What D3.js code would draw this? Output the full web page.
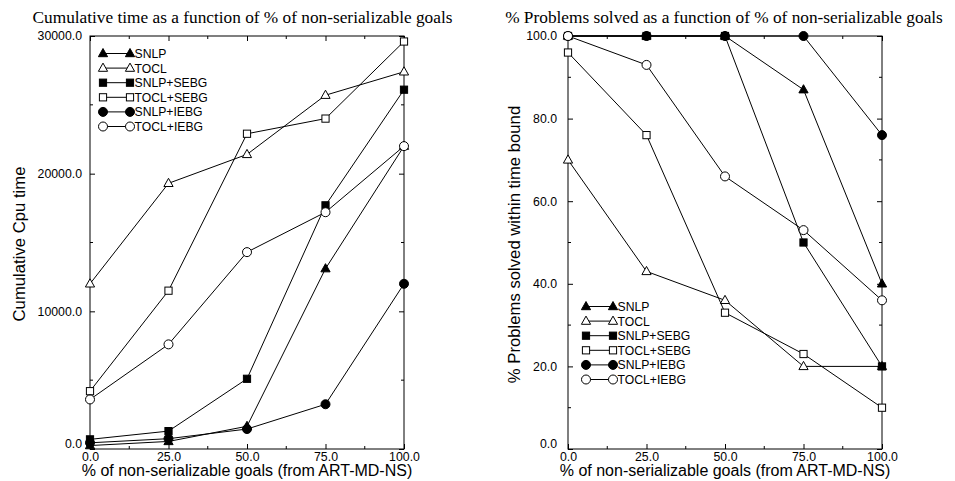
<!DOCTYPE html>
<html>
<head>
<meta charset="utf-8">
<script src="https://cdn.jsdelivr.net/npm/d3@7"></script>
<style>
  body { margin: 0; background: #fff; }
  svg { display: block; }
  .tick text { font-family: "Liberation Sans", Arial, sans-serif; }
</style>
</head>
<body>
<svg id="chart" width="955" height="481"></svg>
<script>
var xValues = [0, 25, 50, 75, 100]
var seriesNames = ['SNLP', 'TOCL', 'SNLP+SEBG', 'TOCL+SEBG', 'SNLP+IEBG', 'TOCL+IEBG']
var seriesMarks = ['triFill', 'triOpen', 'sqFill', 'sqOpen', 'cirFill', 'cirOpen']

// left panel: cumulative cpu time
var timeSNLP = [250, 550, 1650, 13100, 22000]
var timeTOCL = [12000, 19300, 21400, 25700, 27400]
var timeSNLPSEBG = [700, 1300, 5100, 17700, 26100]
var timeTOCLSEBG = [4200, 11500, 22900, 24000, 29600]
var timeSNLPIEBG = [450, 750, 1450, 3250, 12000]
var timeTOCLIEBG = [3600, 7600, 14300, 17200, 22000]

// right panel: % problems solved
var solvedSNLP = [100, 100, 100, 87, 40]
var solvedTOCL = [70, 43, 36, 20, 20]
var solvedSNLPSEBG = [100, 100, 100, 50, 20]
var solvedTOCLSEBG = [96, 76, 33, 23, 10]
var solvedSNLPIEBG = [100, 100, 100, 100, 76]
var solvedTOCLIEBG = [100, 93, 66, 53, 36]

var svg = d3.select('#chart')

function drawMarker(g, kind, x, y) {
  var fill = kind.indexOf('Fill') >= 0 ? '#000' : '#fff'
  if (kind.indexOf('tri') === 0) {
    g.append('path')
      .attr('d', 'M' + x + ',' + (y - 5) + 'L' + (x + 4.6) + ',' + (y + 3.2) + 'L' + (x - 4.6) + ',' + (y + 3.2) + 'Z')
      .style('fill', fill).style('stroke', '#000').style('stroke-width', 1)
  } else if (kind.indexOf('sq') === 0) {
    g.append('rect')
      .attr('x', x - 3.6).attr('y', y - 3.6).attr('width', 7.2).attr('height', 7.2)
      .style('fill', fill).style('stroke', '#000').style('stroke-width', 1)
  } else {
    g.append('circle')
      .attr('cx', x).attr('cy', y).attr('r', 4.5)
      .style('fill', fill).style('stroke', '#000').style('stroke-width', 1)
  }
}

function renderPanel(opts) {
  var left = opts.left, right = opts.right, top = 36, bottom = 449
  var xScale = d3.scaleLinear().domain([0, 100]).range([left, right])
  var yScale = d3.scaleLinear().domain([0, opts.yMax]).range([bottom, top])
  var g = svg.append('g')

  // frame
  g.append('rect')
    .attr('x', left).attr('y', top)
    .attr('width', right - left).attr('height', bottom - top)
    .style('fill', 'none').style('stroke', '#000').style('stroke-width', 1)

  var fmt = d3.format('.1f')
  var xMinor = d3.range(12.5, 100, 25)
  var yMinor = d3.range(opts.yStep / 2, opts.yMax, opts.yStep)
  var yMajor = d3.range(0, opts.yMax + 1, opts.yStep)

  // major axes with inward ticks
  var xAxis = d3.axisBottom(xScale).tickValues(xValues).tickFormat(fmt).tickSizeInner(-5).tickSizeOuter(0).tickPadding(3)
  var gx = g.append('g').attr('transform', 'translate(0,' + bottom + ')').call(xAxis)
  gx.select('.domain').remove()
  gx.selectAll('text').style('font-size', '12.3px').attr('fill', '#000')

  var yAxis = d3.axisLeft(yScale).tickValues(yMajor).tickFormat(fmt).tickSizeInner(-5).tickSizeOuter(0).tickPadding(opts.yPad)
  var gy = g.append('g').attr('transform', 'translate(' + left + ',0)').call(yAxis)
  gy.select('.domain').remove()
  gy.selectAll('text').style('font-size', '12.3px').attr('fill', '#000')
  // bottom label sits a little higher so it clears the x tick labels
  gy.selectAll('.tick').filter(function (d) { return d === 0 }).select('text').attr('y', -5)

  // mirrored ticks
  var gt = g.append('g').attr('transform', 'translate(0,' + top + ')').call(d3.axisTop(xScale).tickValues(xValues).tickFormat('').tickSizeInner(-5).tickSizeOuter(0))
  gt.select('.domain').remove()
  var gr = g.append('g').attr('transform', 'translate(' + right + ',0)').call(d3.axisRight(yScale).tickValues(yMajor).tickFormat('').tickSizeInner(-5).tickSizeOuter(0))
  gr.select('.domain').remove()

  // minor ticks
  ;[[bottom, -3], [top, 3]].forEach(function (p) {
    xMinor.forEach(function (v) {
      g.append('line').attr('x1', xScale(v)).attr('x2', xScale(v)).attr('y1', p[0]).attr('y2', p[0] + p[1]).style('stroke', '#000')
    })
  })
  ;[[left, 3], [right, -3]].forEach(function (p) {
    yMinor.forEach(function (v) {
      g.append('line').attr('y1', yScale(v)).attr('y2', yScale(v)).attr('x1', p[0]).attr('x2', p[0] + p[1]).style('stroke', '#000')
    })
  })

  // series lines then markers
  var line = d3.line().x(function (d, i) { return xScale(xValues[i]) }).y(function (d) { return yScale(d) })
  opts.series.forEach(function (s) {
    g.append('path').datum(s).attr('d', line).style('fill', 'none').style('stroke', '#000').style('stroke-width', 1)
  })
  opts.series.forEach(function (s, si) {
    s.forEach(function (v, i) { drawMarker(g, seriesMarks[si], xScale(xValues[i]), yScale(v)) })
  })

  // legend
  seriesNames.forEach(function (name, i) {
    var ly = opts.legendY + i * 14.6
    g.append('line').attr('x1', opts.legendX).attr('x2', opts.legendX + 27).attr('y1', ly).attr('y2', ly).style('stroke', '#000')
    drawMarker(g, seriesMarks[i], opts.legendX, ly)
    drawMarker(g, seriesMarks[i], opts.legendX + 27, ly)
    g.append('text').attr('x', opts.legendX + 31.5).attr('y', ly + 4.5)
      .style('font-family', '"Liberation Sans", Arial, sans-serif').style('font-size', '12.2px')
      .text(name)
  })

  // titles and axis labels
  svg.append('text').attr('x', opts.titleX).attr('y', 23)
    .style('font-family', '"Liberation Serif", "Times New Roman", serif').style('font-size', '17.3px')
    .style('text-anchor', 'middle').text(opts.title)
  svg.append('text').attr('x', (left + right) / 2).attr('y', 476)
    .style('font-family', '"Liberation Sans", Arial, sans-serif').style('font-size', '16px')
    .style('text-anchor', 'middle').text('% of non-serializable goals (from ART-MD-NS)')
  svg.append('text')
    .attr('transform', 'translate(' + opts.yLabelX + ',' + opts.yLabelY + ') rotate(-90)')
    .style('font-family', '"Liberation Sans", Arial, sans-serif').style('font-size', '16.7px')
    .style('text-anchor', 'middle').text(opts.yLabel)
}

renderPanel({
  left: 90, right: 404, yMax: 30000, yStep: 10000, yPad: 8,
  series: [timeSNLP, timeTOCL, timeSNLPSEBG, timeTOCLSEBG, timeSNLPIEBG, timeTOCLIEBG],
  legendX: 103, legendY: 53.5,
  title: 'Cumulative time as a function of % of non-serializable goals', titleX: 242.5,
  yLabel: 'Cumulative Cpu time', yLabelX: 24.5, yLabelY: 244
})

renderPanel({
  left: 568, right: 882, yMax: 100, yStep: 20, yPad: 11,
  series: [solvedSNLP, solvedTOCL, solvedSNLPSEBG, solvedTOCLSEBG, solvedSNLPIEBG, solvedTOCLIEBG],
  legendX: 586, legendY: 306.5,
  title: '% Problems solved as a function of % of non-serializable goals', titleX: 724,
  yLabel: '% Problems solved within time bound', yLabelX: 520, yLabelY: 244.5
})
</script>
</body>
</html>
